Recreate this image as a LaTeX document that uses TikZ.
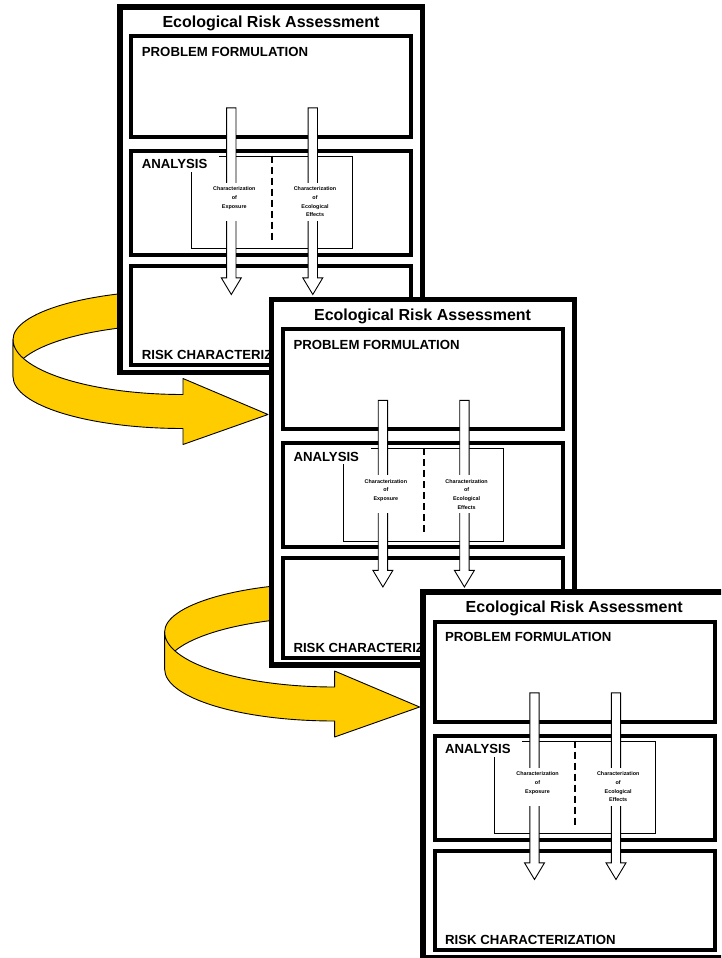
\documentclass[tikz,border=0pt]{standalone}
\usepackage{fontspec}
\setmainfont{Liberation Sans}
\usetikzlibrary{positioning}

\definecolor{ribbonyellow}{RGB}{255,204,0}

\tikzset{
	frame/.style={draw, line width=5.5pt, fill=white, minimum width=302.7pt, minimum height=365.5pt, inner sep=0pt},
	stage/.style={draw, line width=4pt, minimum width=280pt, inner sep=0pt},
	area/.style={draw, line width=0.9pt, minimum width=160.6pt, minimum height=92.8pt, inner sep=0pt},
	title/.style={font=\fontsize{16}{19}\selectfont\bfseries, anchor=base, inner sep=0pt},
	heading/.style={font=\fontsize{13.2}{15}\selectfont\bfseries, anchor=base west, inner sep=0pt},
	note/.style={font=\fontsize{5.4}{8.6}\selectfont\bfseries, fill=white, align=center, text width=44pt, text height=8.3pt, text depth=29.7pt, inner sep=0pt, anchor=base},
	divider/.style={line width=2pt, dash pattern=on 7pt off 4pt, shorten >=7.6pt},
	hollow/.style={draw, fill=white, line width=0.9pt, line join=miter},
	ribbon/.style={draw, fill=ribbonyellow, line width=0.9pt, line join=round}
}

\begin{document}
\begin{tikzpicture}[x=1pt, y=-1pt]
	\useasboundingbox (0,0) rectangle (721,958);
	\clip (0,0) rectangle (721,958);

	\foreach \i in {1,2,3} {
	\begin{scope}[shift={({120+(\i-1)*151.6},{7+(\i-1)*292.5})}]
		% yellow ribbon to the next sheet
		\ifnum\i<3
		\path[ribbon] (60,283.5) .. controls (-32,283.5) and (-107,305.5) .. (-107,332.5) -- (-107,369.5) .. controls (-107,340.8) and (-32,317.5) .. (60,317.5) -- cycle;
		\path[ribbon] (-107,332.5) .. controls (-107,362.5) and (-32,387.5) .. (63,387.5) -- (63,371.5) -- (148,407.5) -- (63,437.5) -- (63,421.5) .. controls (-32,421.5) and (-107,398.2) .. (-107,369.5) -- cycle;
		\fi

		\node[frame]  (era\i) at (151.35,182.75) {};
		\node[title]  (tt\i)  at (151,20.8)      {Ecological Risk Assessment};
		\node[stage, minimum height=100pt]  (pf\i) at (151.3,79.5)   {};
		\node[stage, minimum height=104pt]  (an\i) at (151.3,195.8)  {};
		\node[stage, minimum height=99.5pt] (rc\i) at (151.3,308.25) {};

		\node[heading] (pfl\i) at (21.7,49.5)  {PROBLEM FORMULATION};
		\node[heading] (rcl\i) at (21.7,352.7) {RISK CHARACTERIZATION};

		\node[area] (chr\i) at (152,195.4) {};
		\node[heading, fill=white, text width=77pt, text height=14pt, text depth=3pt] (anl\i) at (21.7,161.5) {ANALYSIS};
		\draw[divider] (chr\i.north) -- (chr\i.south);

		% the two flows
		\coordinate (ea\i) at (111.3,100.8);
		\coordinate (eb\i) at (192.8,100.8);
		\draw[hollow] (ea\i) ++(-4.65,0) -- ++(0,170) -- ++(-5.35,0) -- ++(10,16.7) -- ++(10,-16.7) -- ++(-5.35,0) -- ++(0,-170) -- cycle;
		\draw[hollow] (eb\i) ++(-4.65,0) -- ++(0,170) -- ++(-5.35,0) -- ++(10,16.7) -- ++(10,-16.7) -- ++(-5.35,0) -- ++(0,-170) -- cycle;

		\node[note] (exp\i) at (114.3,183.8) {Characterization\\of\\Exposure};
		\node[note] (eff\i) at (195,183.8)   {Characterization\\of\\Ecological\\Effects};
	\end{scope}
	}
\end{tikzpicture}
\end{document}
